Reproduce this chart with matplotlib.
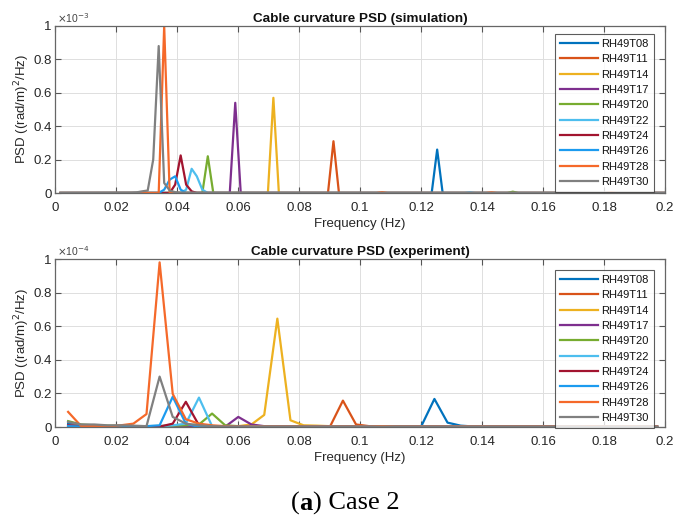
import matplotlib
matplotlib.use("Agg")
import matplotlib.pyplot as plt
from matplotlib.ticker import FuncFormatter

plt.rcParams['font.family'] = ['Liberation Sans', 'DejaVu Sans']

labels = ["RH49T08", "RH49T11", "RH49T14", "RH49T17", "RH49T20",
          "RH49T22", "RH49T24", "RH49T26", "RH49T28", "RH49T30"]
colors = ["#0072BD", "#D95319", "#EDB120", "#7E2F8E", "#77AC30",
          "#4DBEEE", "#A2142F", "#1C9BEF", "#F5692A", "#808080"]

# ---- Simulation PSD (values in units of 1e-3 (rad/m)^2/Hz) ----
sim_f = {
    "RH49T08": [0.0018, 0.1235, 0.1253, 0.1271, 0.2],
    "RH49T11": [0.0018, 0.0895, 0.0913, 0.0931, 0.2],
    "RH49T14": [0.0018, 0.0698, 0.0716, 0.0734, 0.2],
    "RH49T17": [0.0018, 0.0573, 0.0591, 0.0609, 0.2],
    "RH49T20": [0.0018, 0.0483, 0.0501, 0.0519, 0.1483, 0.1501, 0.1519, 0.2],
    "RH49T22": [0.0018, 0.0412, 0.0430, 0.0448, 0.0465, 0.0483, 0.0501,
                0.1342, 0.1360, 0.1378, 0.2],
    "RH49T24": [0.0018, 0.0376, 0.0394, 0.0412, 0.0430, 0.0448, 0.0465, 0.2],
    "RH49T26": [0.0018, 0.0340, 0.0358, 0.0376, 0.0394, 0.0412, 0.0430, 0.2],
    "RH49T28": [0.0018, 0.0340, 0.0358, 0.0376, 0.1054, 0.1072, 0.1090,
                0.1413, 0.1431, 0.1449, 0.1806, 0.1824, 0.1842, 0.2],
    "RH49T30": [0.0018, 0.0250, 0.0268, 0.0286, 0.0304, 0.0322, 0.0340,
                0.0358, 0.0376, 0.0394, 0.0412, 0.2],
}
sim_v = {
    "RH49T08": [0, 0, 0.26, 0, 0],
    "RH49T11": [0, 0, 0.31, 0, 0],
    "RH49T14": [0, 0, 0.57, 0, 0],
    "RH49T17": [0, 0, 0.54, 0, 0],
    "RH49T20": [0, 0, 0.22, 0, 0, 0.008, 0, 0],
    "RH49T22": [0, 0, 0.02, 0.145, 0.10, 0.02, 0, 0, 0.004, 0, 0],
    "RH49T24": [0, 0, 0.05, 0.225, 0.05, 0.01, 0, 0],
    "RH49T26": [0, 0, 0.02, 0.08, 0.10, 0.02, 0, 0],
    "RH49T28": [0, 0, 1.0, 0, 0, 0.005, 0, 0, 0.004, 0, 0, 0.004, 0, 0],
    "RH49T30": [0, 0.002, 0.004, 0.01, 0.015, 0.2, 0.88, 0.06, 0.015, 0.005, 0.002, 0],
}

# ---- Experiment PSD (values in units of 1e-4 (rad/m)^2/Hz) ----
exp_freq = [0.0043, 0.0086, 0.0129, 0.0172, 0.0215, 0.0257, 0.0300, 0.0343, 0.0386, 0.0429,
            0.0472, 0.0515, 0.0558, 0.0601, 0.0644, 0.0686, 0.0729, 0.0772, 0.0815, 0.0858,
            0.0901, 0.0944, 0.0987, 0.1030, 0.1073, 0.1115, 0.1158, 0.1201, 0.1244, 0.1287,
            0.1330, 0.1373, 0.1416, 0.1459, 0.1502, 0.1545, 0.1588, 0.1631, 0.1674, 0.1717,
            0.1760, 0.1803, 0.1845, 0.1888, 0.1931, 0.1974]
exp_v = {
    "RH49T08": [0.02, 0.01, 0.005, 0.003, 0.002, 0.002, 0.002, 0.002, 0.002, 0.002,
                0.002, 0.002, 0.002, 0.002, 0.002, 0.002, 0.002, 0.002, 0.002, 0.002,
                0.002, 0.002, 0.002, 0.002, 0.002, 0.003, 0.003, 0.005, 0.167, 0.026,
                0.008, 0.003, 0.002, 0.001, 0.001, 0.001, 0.001, 0.001, 0.001, 0.001,
                0.001, 0.001, 0.001, 0.001, 0.001, 0.001],
    "RH49T11": [0.01, 0.005, 0.003, 0.002, 0.002, 0.002, 0.002, 0.002, 0.002, 0.002,
                0.002, 0.002, 0.002, 0.002, 0.002, 0.002, 0.002, 0.002, 0.002, 0.002,
                0.0, 0.157, 0.015, 0.005, 0.004, 0.003, 0.002, 0.002, 0.002, 0.002,
                0.002, 0.002, 0.002, 0.002, 0.002, 0.002, 0.002, 0.002, 0.002, 0.002,
                0.002, 0.002, 0.002, 0.002, 0.002, 0.002],
    "RH49T14": [0.01, 0.005, 0.003, 0.002, 0.002, 0.002, 0.002, 0.002, 0.002, 0.002,
                0.002, 0.002, 0.003, 0.005, 0.015, 0.072, 0.645, 0.04, 0.01, 0.008,
                0.005, 0.003, 0.002, 0.002, 0.002, 0.002, 0.002, 0.002, 0.002, 0.002,
                0.002, 0.002, 0.002, 0.002, 0.002, 0.002, 0.002, 0.002, 0.002, 0.002,
                0.002, 0.002, 0.002, 0.002, 0.002, 0.002],
    "RH49T17": [0.01, 0.005, 0.003, 0.002, 0.002, 0.002, 0.002, 0.002, 0.002, 0.002,
                0.002, 0.001, 0.002, 0.06, 0.015, 0.005, 0.002, 0.002, 0.002, 0.002,
                0.002, 0.002, 0.002, 0.002, 0.002, 0.002, 0.002, 0.002, 0.002, 0.002,
                0.002, 0.002, 0.002, 0.002, 0.002, 0.002, 0.002, 0.002, 0.002, 0.002,
                0.002, 0.002, 0.002, 0.002, 0.002, 0.002],
    "RH49T20": [0.035, 0.015, 0.01, 0.008, 0.006, 0.005, 0.005, 0.006, 0.008, 0.01,
                0.015, 0.08, 0.01, 0.005, 0.003, 0.002, 0.002, 0.002, 0.002, 0.002,
                0.002, 0.002, 0.002, 0.002, 0.002, 0.002, 0.002, 0.002, 0.002, 0.002,
                0.002, 0.002, 0.002, 0.002, 0.002, 0.002, 0.002, 0.002, 0.002, 0.002,
                0.002, 0.002, 0.002, 0.002, 0.002, 0.002],
    "RH49T22": [0.01, 0.005, 0.003, 0.002, 0.002, 0.002, 0.002, 0.005, 0.01, 0.02,
                0.175, 0.005, 0.002, 0.002, 0.002, 0.002, 0.002, 0.002, 0.002, 0.002,
                0.002, 0.002, 0.002, 0.002, 0.002, 0.002, 0.002, 0.002, 0.002, 0.002,
                0.002, 0.002, 0.002, 0.002, 0.002, 0.002, 0.002, 0.002, 0.002, 0.002,
                0.002, 0.002, 0.002, 0.002, 0.002, 0.002],
    "RH49T24": [0.01, 0.005, 0.003, 0.002, 0.002, 0.002, 0.002, 0.002, 0.02, 0.15,
                0.01, 0.003, 0.002, 0.002, 0.002, 0.002, 0.002, 0.002, 0.002, 0.002,
                0.002, 0.002, 0.002, 0.002, 0.002, 0.002, 0.002, 0.002, 0.002, 0.002,
                0.002, 0.002, 0.002, 0.002, 0.002, 0.002, 0.002, 0.002, 0.002, 0.002,
                0.002, 0.002, 0.002, 0.002, 0.002, 0.002],
    "RH49T26": [0.005, 0.003, 0.002, 0.002, 0.002, 0.003, 0.005, 0.01, 0.18, 0.02,
                0.0, 0.002, 0.002, 0.002, 0.002, 0.002, 0.002, 0.002, 0.002, 0.002,
                0.002, 0.002, 0.002, 0.002, 0.002, 0.002, 0.002, 0.002, 0.002, 0.002,
                0.002, 0.002, 0.002, 0.002, 0.002, 0.002, 0.002, 0.002, 0.002, 0.002,
                0.002, 0.002, 0.002, 0.002, 0.002, 0.002],
    "RH49T28": [0.09, 0.005, 0.005, 0.003, 0.01, 0.02, 0.077, 0.98, 0.197, 0.046,
                0.02, 0.01, 0.005, 0.003, 0.003, 0.003, 0.003, 0.003, 0.003, 0.003,
                0.003, 0.003, 0.003, 0.003, 0.005, 0.003, 0.003, 0.003, 0.003, 0.003,
                0.003, 0.003, 0.003, 0.003, 0.003, 0.003, 0.003, 0.003, 0.003, 0.003,
                0.005, 0.003, 0.003, 0.004, 0.003, 0.003],
    "RH49T30": [0.03, 0.015, 0.015, 0.01, 0.01, 0.008, 0.005, 0.30, 0.06, 0.02,
                0.01, 0.005, 0.003, 0.002, 0.002, 0.002, 0.002, 0.002, 0.002, 0.002,
                0.002, 0.002, 0.002, 0.002, 0.002, 0.002, 0.002, 0.002, 0.002, 0.002,
                0.002, 0.002, 0.002, 0.002, 0.002, 0.002, 0.002, 0.002, 0.002, 0.002,
                0.002, 0.002, 0.002, 0.002, 0.002, 0.002],
}

titles = ["Cable curvature PSD (simulation)", "Cable curvature PSD (experiment)"]
exponents = ["-3", "-4"]
x_ticks = [0, 0.02, 0.04, 0.06, 0.08, 0.1, 0.12, 0.14, 0.16, 0.18, 0.2]
y_ticks = [0, 0.2, 0.4, 0.6, 0.8, 1]

W, H = 676, 519
fig = plt.figure(figsize=(W / 100, H / 100), dpi=100)
ax_top = fig.add_axes([55 / W, 1 - 193 / H, 610 / W, 167 / H])
ax_bot = fig.add_axes([55 / W, 1 - 427 / H, 610 / W, 168 / H])

tick_color = "#262626"
fmt = FuncFormatter(lambda v, p: "%g" % round(v, 4))

for ax, kind in ((ax_top, "sim"), (ax_bot, "exp")):
    for lab, col in zip(labels, colors):
        if kind == "sim":
            ax.plot(sim_f[lab], sim_v[lab], color=col, lw=1.6, label=lab)
        else:
            ax.plot(exp_freq, exp_v[lab], color=col, lw=1.6, label=lab)

for i, ax in enumerate((ax_top, ax_bot)):
    ax.set_xlim(0, 0.2)
    ax.set_ylim(0, 1)
    ax.set_xticks(x_ticks)
    ax.set_yticks(y_ticks)
    ax.xaxis.set_major_formatter(fmt)
    ax.yaxis.set_major_formatter(fmt)
    ax.grid(True, color="#dedede", lw=0.7)
    ax.set_axisbelow(True)
    ax.tick_params(direction="in", top=True, right=True, length=4, width=0.8,
                   color="#555555", labelsize=9.5, labelcolor=tick_color)
    ax.tick_params(axis="x", pad=6.5)
    ax.tick_params(axis="y", pad=2.5)
    for s in ax.spines.values():
        s.set_color("#666666")
        s.set_linewidth(0.9)
    ax.set_title(titles[i], fontsize=9.7, fontweight="bold", color="#111111", pad=3)
    ax.set_xlabel("Frequency (Hz)", fontsize=9.5, color=tick_color, labelpad=3)
    ax.set_ylabel("PSD ((rad/m)$^2$/Hz)", fontsize=9.5, color=tick_color, labelpad=1)
    ax.text(0.004, 1.008, r"$\times$10$^{%s}$" % exponents[i], transform=ax.transAxes,
            fontsize=7.5, color="#444444", ha="left", va="bottom")
    leg = ax.legend(loc="upper right",
                    bbox_to_anchor=(1 - 11 / 610, 1 - 8 / 167 if i == 0 else 1 - 11 / 168),
                    borderaxespad=0, fontsize=8.0, handlelength=3.4, handletextpad=0.35,
                    labelspacing=0.48, borderpad=0.45, frameon=True, fancybox=False)
    leg.get_frame().set_edgecolor("#333333")
    leg.get_frame().set_linewidth(0.8)
    for t in leg.get_texts():
        t.set_color("#111111")

# caption "(a) Case 2"
fig.canvas.draw()
r = fig.canvas.get_renderer()
cap_fs = 19
y_cap = 1 - 503 / H
t1 = fig.text(0, y_cap, "(", fontsize=cap_fs, family="Liberation Serif", va="center")
t2 = fig.text(0, y_cap, "a", fontsize=cap_fs, family="Liberation Serif", fontweight="bold", va="center")
t3 = fig.text(0, y_cap, ") Case 2", fontsize=cap_fs, family="Liberation Serif", va="center")
w1 = t1.get_window_extent(r).width
w2 = t2.get_window_extent(r).width
w3 = t3.get_window_extent(r).width
total = w1 + w2 + w3
x0 = 345 - total / 2
t1.set_x(x0 / W)
t2.set_x((x0 + w1) / W)
t3.set_x((x0 + w1 + w2) / W)

fig.savefig("out.png", dpi=100)
